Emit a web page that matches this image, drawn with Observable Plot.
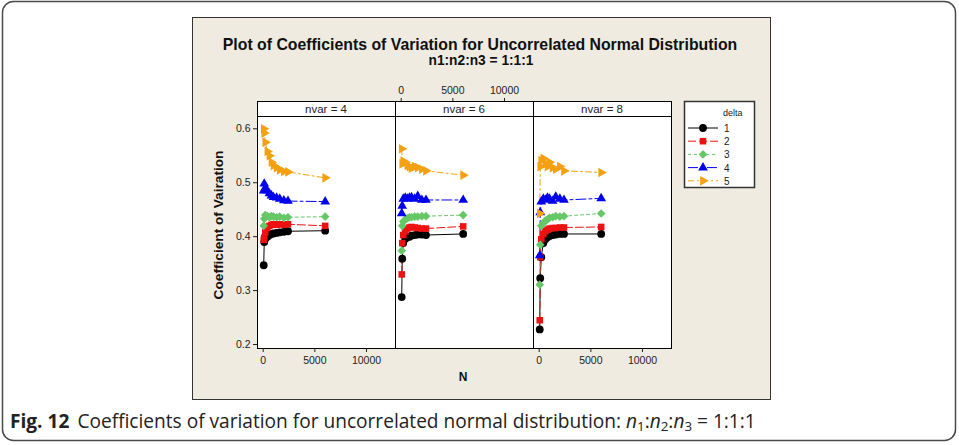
<!DOCTYPE html>
<html><head><meta charset="utf-8">
<script src="https://cdn.jsdelivr.net/npm/d3@7"></script>
<script src="https://cdn.jsdelivr.net/npm/@observablehq/plot@0.6"></script>
<style>
html,body{margin:0;padding:0;background:#fff;}
#root{position:relative;width:959px;height:445px;overflow:hidden;font-family:"Liberation Sans",Arial,sans-serif;}
#root > svg, #root > div{position:absolute;}
</style></head><body><div id="root"></div>
<script>
// ---- data ----
const N = [50, 100, 200, 400, 600, 800, 1000, 1300, 1600, 2000, 2400, 6000];
const deltas = [1, 2, 3, 4, 5];
const nvars = [4, 6, 8];
const xTicks = [0, 5000, 10000];
const yTicks = [0.2, 0.3, 0.4, 0.5, 0.6];
// rows: delta 1..5, columns: N
const nvar4 = [
  [0.347, 0.390, 0.396, 0.400, 0.403, 0.405, 0.406, 0.407, 0.408, 0.409, 0.410, 0.411],
  [0.394, 0.398, 0.408, 0.416, 0.420, 0.422, 0.423, 0.422, 0.423, 0.422, 0.423, 0.420],
  [0.420, 0.433, 0.440, 0.438, 0.436, 0.438, 0.437, 0.436, 0.437, 0.435, 0.436, 0.437],
  [0.485, 0.498, 0.490, 0.485, 0.480, 0.476, 0.473, 0.472, 0.470, 0.467, 0.466, 0.465],
  [0.600, 0.592, 0.575, 0.558, 0.550, 0.538, 0.532, 0.528, 0.524, 0.521, 0.520, 0.509]
];
const nvar6 = [
  [0.288, 0.359, 0.388, 0.396, 0.399, 0.400, 0.402, 0.403, 0.404, 0.404, 0.403, 0.405],
  [0.330, 0.388, 0.403, 0.410, 0.415, 0.417, 0.418, 0.417, 0.416, 0.415, 0.415, 0.419],
  [0.374, 0.420, 0.428, 0.432, 0.434, 0.436, 0.436, 0.437, 0.437, 0.438, 0.438, 0.440],
  [0.443, 0.457, 0.470, 0.472, 0.470, 0.472, 0.473, 0.470, 0.475, 0.468, 0.468, 0.468],
  [0.563, 0.535, 0.540, 0.538, 0.532, 0.530, 0.527, 0.530, 0.528, 0.525, 0.522, 0.514]
];
const nvar8 = [
  [0.228, 0.323, 0.362, 0.388, 0.395, 0.399, 0.401, 0.403, 0.404, 0.405, 0.405, 0.405],
  [0.245, 0.362, 0.395, 0.405, 0.410, 0.413, 0.415, 0.416, 0.416, 0.417, 0.417, 0.418],
  [0.311, 0.385, 0.420, 0.425, 0.430, 0.432, 0.435, 0.436, 0.438, 0.437, 0.438, 0.443],
  [0.365, 0.445, 0.465, 0.470, 0.468, 0.472, 0.470, 0.466, 0.474, 0.470, 0.468, 0.471],
  [0.443, 0.530, 0.541, 0.545, 0.535, 0.530, 0.538, 0.528, 0.525, 0.530, 0.522, 0.519]
];
const panelValues = [nvar4, nvar6, nvar8];

// ---- styles ----
const colors = ["#000000", "#ee1111", "#66c766", "#0000ee", "#f5a010"];
const dashes = [null, "8,3", "3,3", "10,3,3,3", "6,3,2,3"];
const triRight = {
  draw(ctx, size) {
    const r = Math.sqrt(size / (3 * Math.sqrt(3) / 4));
    ctx.moveTo(r, 0);
    ctx.lineTo(-r / 2, r * Math.sqrt(3) / 2);
    ctx.lineTo(-r / 2, -r * Math.sqrt(3) / 2);
    ctx.closePath();
  }
};
const symbols = ["circle", "square", "diamond2", "triangle", triRight];
const d3Symbols = [d3.symbolCircle, d3.symbolSquare, d3.symbolDiamond2, d3.symbolTriangle, triRight];
const symRadius = [3.9, 3.7, 3.9, 3.6, 3.6];

const FONT = "Liberation Sans, Arial, sans-serif";
const root = document.getElementById("root");

// ---- geometry ----
const panelLefts = [257, 395, 533];
const PW = 138, PH = 232, PTOP = 116, STRIP = 15;
const mL = 50, mR = 12, mT = 10, mB = 40;
const xDomain = [-552, 12808];
const yDomain = [0.1926, 0.6228];

// background svg
const bg = d3.select(root).append("svg").attr("width", 959).attr("height", 445).style("left", "0px").style("top", "0px");
bg.append("rect").attr("x", 2.5).attr("y", 1.5).attr("width", 953).attr("height", 439).attr("rx", 11)
  .attr("fill", "#fff").attr("stroke", "#4a4a4a").attr("stroke-width", 1.5);
bg.append("rect").attr("x", 192.5).attr("y", 17.5).attr("width", 578).attr("height", 382)
  .attr("fill", "#efebe1").attr("stroke", "#333").attr("stroke-width", 1);

// panels
panelValues.forEach((vals, k) => {
  const series = deltas.map((d, i) => N.map((n, j) => ({N: n, cv: vals[i][j], delta: d})));
  const marks = [Plot.frame({fill: "white"})];
  series.forEach((s, i) => marks.push(Plot.line(s, {x: "N", y: "cv", stroke: colors[i], strokeWidth: 1, strokeDasharray: dashes[i]})));
  series.forEach((s, i) => marks.push(Plot.dot(s, {x: "N", y: "cv", symbol: symbols[i], fill: colors[i], stroke: "none", r: symRadius[i]})));
  marks.push(Plot.frame({stroke: "#000", strokeWidth: 1}));
  if (k === 0) {
    marks.push(Plot.axisY({ticks: yTicks, tickFormat: d => d.toFixed(1), tickSize: 4, tickPadding: 3, label: null}));
  }
  if (k !== 1) {
    marks.push(Plot.axisX({anchor: "bottom", ticks: xTicks, tickFormat: d => String(d), tickSize: 4, tickPadding: 4, label: null}));
  }
  const chart = Plot.plot({
    width: PW + mL + mR, height: PH + mT + mB,
    marginLeft: mL, marginRight: mR, marginTop: mT, marginBottom: mB,
    x: {domain: xDomain, axis: null},
    y: {domain: yDomain, axis: null},
    style: {background: "transparent", overflow: "visible", fontFamily: FONT, fontSize: "10.5px", color: "#222"},
    marks
  });
  chart.style.left = (panelLefts[k] - mL) + "px";
  chart.style.top = (PTOP - mT) + "px";
  chart.style.position = "absolute";
  root.appendChild(chart);
});

// top axis for middle panel (above strip)
{
  const tmT = 25, tmB = 5;
  const topAxis = Plot.plot({
    width: PW + mL + mR, height: tmT + tmB,
    marginLeft: mL, marginRight: mR, marginTop: tmT, marginBottom: tmB,
    x: {domain: xDomain, axis: null},
    style: {background: "transparent", overflow: "visible", fontFamily: FONT, fontSize: "10.5px", color: "#222"},
    marks: [Plot.axisX({anchor: "top", ticks: xTicks, tickFormat: d => String(d), tickSize: 4, tickPadding: 4, label: null})]
  });
  topAxis.style.position = "absolute";
  topAxis.style.left = (panelLefts[1] - mL) + "px";
  topAxis.style.top = (PTOP - STRIP - tmT) + "px";
  root.appendChild(topAxis);
}

// foreground svg
const fg = d3.select(root).append("svg").attr("width", 959).attr("height", 445).style("left", "0px").style("top", "0px")
  .style("pointer-events", "none");

function fit(sel, target) {
  const w = sel.node().getComputedTextLength();
  const fs = parseFloat(sel.attr("font-size"));
  sel.attr("font-size", (fs * target / w).toFixed(2));
}

// strips
nvars.forEach((nv, k) => {
  fg.append("rect").attr("x", panelLefts[k] + 0.5).attr("y", PTOP - STRIP + 0.5).attr("width", PW).attr("height", STRIP)
    .attr("fill", "#fff").attr("stroke", "#000").attr("stroke-width", 1);
  fg.append("text").attr("x", panelLefts[k] + PW / 2).attr("y", PTOP - STRIP / 2 + 4.5).attr("text-anchor", "middle")
    .attr("font-family", FONT).attr("font-size", 11.5).attr("fill", "#222").text(`nvar = ${nv}`);
});

// titles
const t1 = fg.append("text").attr("x", 480).attr("y", 50).attr("text-anchor", "middle").attr("font-family", FONT)
  .attr("font-weight", "bold").attr("font-size", 14).attr("fill", "#111")
  .text("Plot of Coefficients of Variation for Uncorrelated Normal Distribution");
fit(t1, 515);
const t2 = fg.append("text").attr("x", 481).attr("y", 65).attr("text-anchor", "middle").attr("font-family", FONT)
  .attr("font-weight", "bold").attr("font-size", 12).attr("fill", "#111").text("n1:n2:n3 = 1:1:1");
fit(t2, 105);

// axis titles
const yl = fg.append("text").attr("transform", "translate(223,225) rotate(-90)").attr("text-anchor", "middle")
  .attr("font-family", FONT).attr("font-weight", "bold").attr("font-size", 13).attr("fill", "#111")
  .text("Coefficient of Vairation");
fit(yl, 149);
fg.append("text").attr("x", 463).attr("y", 381).attr("text-anchor", "middle").attr("font-family", FONT)
  .attr("font-weight", "bold").attr("font-size", 12).attr("fill", "#111").text("N");

// legend
fg.append("rect").attr("x", 684.5).attr("y", 101.5).attr("width", 70).attr("height", 86)
  .attr("fill", "#fff").attr("stroke", "#333").attr("stroke-width", 1.5);
fg.append("text").attr("x", 723).attr("y", 116).attr("font-family", FONT).attr("font-size", 9).attr("fill", "#222").text("delta");
deltas.forEach((d, i) => {
  const y = 128 + i * 13.2;
  fg.append("line").attr("x1", 688).attr("x2", 718).attr("y1", y).attr("y2", y)
    .attr("stroke", colors[i]).attr("stroke-width", 1).attr("stroke-dasharray", dashes[i]);
  const r = symRadius[i];
  fg.append("path").attr("transform", `translate(${703},${y})`)
    .attr("d", d3.symbol(d3Symbols[i], Math.PI * r * r)())
    .attr("fill", colors[i]);
  fg.append("text").attr("x", 724).attr("y", y + 4).attr("font-family", FONT).attr("font-size", 10).attr("fill", "#222").text(String(d));
});

// caption
const cap = fg.append("text").attr("x", 10).attr("y", 428).attr("font-family", "Open Sans, Noto Sans, sans-serif")
  .attr("font-size", 16).attr("fill", "#222");
cap.append("tspan").attr("font-weight", "bold").text("Fig. 12");
cap.append("tspan").attr("dx", 8).text("Coefficients of variation for uncorrelated normal distribution: ");
cap.append("tspan").attr("font-style", "italic").text("n");
cap.append("tspan").attr("font-size", "0.7em").attr("dy", 3).text("1");
cap.append("tspan").attr("dy", -3).text(":");
cap.append("tspan").attr("font-style", "italic").text("n");
cap.append("tspan").attr("font-size", "0.7em").attr("dy", 3).text("2");
cap.append("tspan").attr("dy", -3).text(":");
cap.append("tspan").attr("font-style", "italic").text("n");
cap.append("tspan").attr("font-size", "0.7em").attr("dy", 3).text("3");
cap.append("tspan").attr("dy", -3).text(" = 1:1:1");
fit(cap, 738);
</script></body></html>
